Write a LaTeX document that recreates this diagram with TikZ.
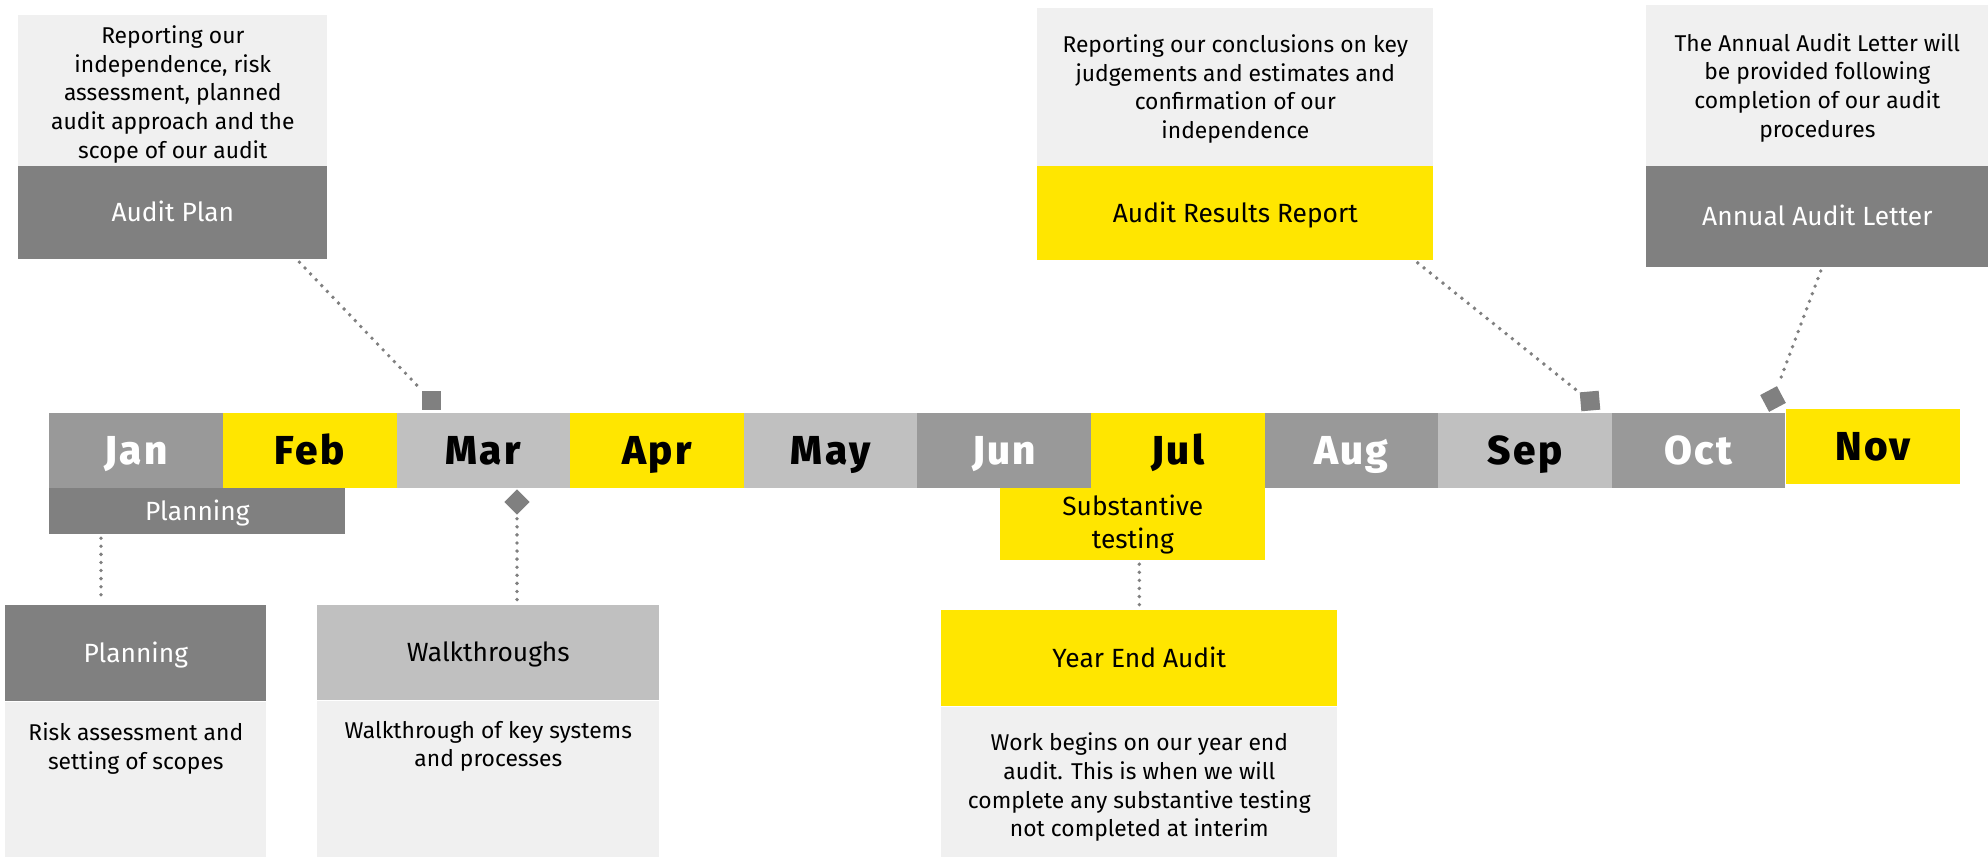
\documentclass[tikz,border=0pt]{standalone}
\usepackage{fontspec}
\setmainfont{Fira Sans}
\newfontfamily\monthfont[LetterSpace=6]{Fira Sans ExtraBold}
\usetikzlibrary{positioning, calc}

\definecolor{eyyellow}{HTML}{FFE600}
\definecolor{darkgrey}{HTML}{808080}
\definecolor{midgrey}{HTML}{999999}
\definecolor{lightgrey}{HTML}{C0C0C0}
\definecolor{paper}{HTML}{F0F0F0}

\tikzset{
  box/.style={anchor=north west, inner sep=0pt, align=center},
  head/.style={box, font=\fontsize{15}{18}\selectfont, text height=10.3pt, text depth=0pt},
  note/.style={inner sep=0pt, align=center, font=\fontsize{13}{16.3}\selectfont},
  month/.style={anchor=north west, inner sep=0pt, minimum width=3.472cm, minimum height=1.5cm,
    font=\monthfont\fontsize{23}{23}\selectfont, text height=16pt, text depth=0pt},
  marker/.style={fill=darkgrey, inner sep=0pt, minimum size=0.38cm},
  link/.style={darkgrey, line width=2.2pt, line cap=round, dash pattern=on 0pt off 4.6pt,
    shorten <=2pt, shorten >=2pt},
}

\begin{document}
\begin{tikzpicture}[x=0.02cm, y=-0.02cm]
    \useasboundingbox (0,0) rectangle (1988,856);

    % month bar
    \foreach \m/\bg/\fg [count=\i from 0] in {Jan/midgrey/white, Feb/eyyellow/black,
        Mar/lightgrey/black, Apr/eyyellow/black, May/lightgrey/black, Jun/midgrey/white,
        Jul/eyyellow/black, Aug/midgrey/white, Sep/lightgrey/black, Oct/midgrey/white}
        \node[month, fill=\bg, text=\fg] (\m) at ({49+173.6*\i},413) {\m};
    \node[month, fill=eyyellow] (Nov) at (1786,409) {Nov};

    % reports above the bar
    \node[head, fill=darkgrey, text=white, minimum width=6.18cm, minimum height=1.86cm] (plan) at (18,166) {Audit Plan};
    \node[note, fill=paper, minimum width=6.18cm, minimum height=3.02cm, above=0pt of plan] (plannote)
        {\rule{0pt}{15pt}Reporting our\\independence, risk\\assessment, planned\\audit approach and the\\scope of our audit};

    \node[head, fill=eyyellow, minimum width=7.92cm, minimum height=1.88cm] (results) at (1037,166) {Audit Results Report};
    \node[note, fill=paper, minimum width=7.92cm, minimum height=3.16cm, above=0pt of results] (resultsnote)
        {\rule{0pt}{13pt}Reporting our conclusions on key\\judgements and estimates and\\confirmation of our\\independence};

    \node[head, fill=darkgrey, text=white, minimum width=6.84cm, minimum height=2.02cm] (letter) at (1646,166) {Annual Audit Letter};
    \node[note, fill=paper, minimum width=6.84cm, minimum height=3.22cm, above=0pt of letter] (letternote)
        {\rule{0pt}{13pt}The Annual Audit Letter will\\be provided following\\completion of our audit\\procedures};

    % work below the bar
    \node[head, fill=darkgrey, text=white, minimum width=5.92cm, minimum height=0.92cm] (planbar) at (49,488) {Planning};
    \node[box, fill=eyyellow, minimum width=5.30cm, minimum height=1.44cm, font=\fontsize{15}{18.8}\selectfont] (testing) at (1000,488) {Substantive\\testing};

    \node[head, fill=darkgrey, text=white, minimum width=5.22cm, minimum height=1.92cm] (planbox) at (5,605) {Planning};
    \node[box, fill=paper, minimum width=5.22cm, minimum height=3.10cm, below=0pt of planbox] (planfill) {};
    \node[note, below=0.42cm of planfill.north] (planbody) {Risk assessment and\\setting of scopes};

    \node[head, fill=lightgrey, minimum width=6.84cm, minimum height=1.90cm] (walk) at (317,605) {Walkthroughs};
    \node[box, fill=paper, minimum width=6.84cm, minimum height=3.12cm, below=0pt of walk] (walkfill) {};
    \node[note, below=0.40cm of walkfill.north] (walkbody) {Walkthrough of key systems\\and processes};

    \node[head, fill=eyyellow, minimum width=7.92cm, minimum height=1.92cm] (yearend) at (941,610) {Year End Audit};
    \node[box, fill=paper, minimum width=7.92cm, minimum height=3.00cm, below=0pt of yearend] (yearfill) {};
    \node[note, below=0.52cm of yearfill.north] (yearbody)
        {Work begins on our year end\\audit. This is when we will\\complete any substantive testing\\not completed at interim};

    % markers on the bar
    \node[marker] (planmark) at (431,400) {};
    \node[marker, rotate=45, minimum size=0.36cm] (walkmark) at (517,502) {};
    \node[marker, rotate=5] (resultsmark) at (1590,401) {};
    \node[marker, rotate=28] (lettermark) at (1773,399) {};

    % dotted leaders
    \coordinate (planfoot) at ($(planbar.south west)+(52,0)$);
    \draw[link] ($(plan.south west)+(279,0)$) -- (planmark);
    \draw[link] ($(results.south west)+(378,0)$) -- (resultsmark);
    \draw[link] ($(letter.south west)+(176,0)$) -- (lettermark);
    \draw[link] (walkmark) -- (walk.north -| walkmark);
    \draw[link] (planfoot) -- (planbox.north -| planfoot);
    \draw[link] (testing.south -| yearend) -- (yearend);
\end{tikzpicture}
\end{document}
